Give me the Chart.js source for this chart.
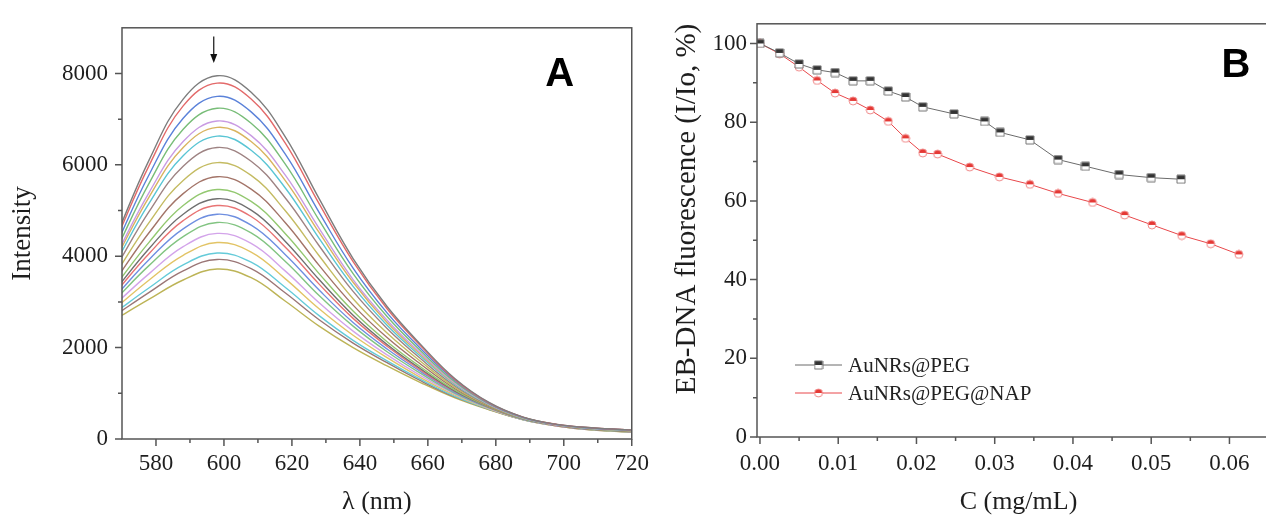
<!DOCTYPE html>
<html lang="en">
<head>
  <meta charset="UTF-8">
  <title>EB-DNA fluorescence</title>
  <script src="https://cdn.jsdelivr.net/npm/chart.js@4"></script>
  <style>
    html, body { margin: 0; padding: 0; background: #fff; overflow: hidden; }
    body { width: 1266px; height: 518px; position: relative; }
    .panel { position: absolute; top: 0; }
    #panelA { left: 0; width: 660px; height: 518px; }
    #panelB { left: 660px; width: 625px; height: 518px; }
  </style>
</head>
<body>
  <div class="panel" id="panelA"><canvas id="chartA" width="660" height="518"></canvas></div>
  <div class="panel" id="panelB"><canvas id="chartB" width="625" height="518"></canvas></div>

  <script>
    // ---- panel A : emission spectra (top curve = first addition, bottom = last) ----
    const wavelength = [568, 578, 588, 598, 608, 618, 628, 638, 648, 658, 668, 678, 688, 698, 708, 718, 728];
    const spec01 = [4390, 6110, 7440, 7950, 7590, 6620, 5260, 3950, 2900, 2060, 1320, 800, 480, 320, 245, 205, 185];
    const spec02 = [4320, 5990, 7290, 7790, 7440, 6480, 5150, 3880, 2850, 2030, 1300, 790, 480, 320, 245, 205, 185];
    const spec03 = [4200, 5790, 7020, 7500, 7160, 6240, 4960, 3740, 2760, 1970, 1280, 780, 475, 315, 240, 200, 180];
    const spec04 = [4090, 5600, 6780, 7240, 6910, 6020, 4790, 3620, 2680, 1920, 1250, 770, 470, 315, 240, 195, 180];
    const spec05 = [3980, 5400, 6510, 6960, 6640, 5780, 4610, 3490, 2600, 1870, 1220, 760, 465, 310, 235, 195, 175];
    const spec06 = [3920, 5300, 6380, 6820, 6510, 5660, 4520, 3430, 2550, 1840, 1210, 760, 465, 310, 235, 190, 170];
    const spec07 = [3840, 5160, 6200, 6630, 6320, 5500, 4390, 3340, 2490, 1800, 1190, 750, 460, 310, 230, 190, 170];
    const spec08 = [3730, 4980, 5970, 6380, 6080, 5280, 4230, 3230, 2420, 1750, 1160, 740, 460, 305, 230, 185, 165];
    const spec09 = [3600, 4740, 5660, 6050, 5770, 5000, 4010, 3070, 2320, 1690, 1130, 730, 455, 305, 225, 185, 165];
    const spec10 = [3470, 4520, 5370, 5740, 5470, 4740, 3800, 2930, 2220, 1630, 1100, 715, 450, 300, 220, 180, 160];
    const spec11 = [3350, 4310, 5110, 5460, 5200, 4500, 3620, 2800, 2130, 1570, 1070, 705, 445, 300, 220, 175, 155];
    const spec12 = [3260, 4170, 4920, 5260, 5010, 4330, 3490, 2710, 2070, 1530, 1050, 700, 440, 300, 215, 175, 155];
    const spec13 = [3200, 4060, 4780, 5110, 4870, 4200, 3390, 2640, 2030, 1500, 1040, 695, 440, 295, 215, 170, 150];
    const spec14 = [3120, 3930, 4600, 4920, 4680, 4040, 3260, 2550, 1970, 1470, 1020, 685, 435, 295, 215, 170, 150];
    const spec15 = [3050, 3800, 4430, 4740, 4510, 3890, 3140, 2470, 1910, 1430, 1000, 680, 435, 295, 210, 165, 145];
    const spec16 = [2950, 3620, 4210, 4500, 4280, 3680, 2980, 2360, 1840, 1380, 980, 670, 430, 290, 210, 165, 145];
    const spec17 = [2860, 3480, 4020, 4300, 4090, 3510, 2850, 2270, 1780, 1340, 960, 660, 430, 290, 205, 160, 140];
    const spec18 = [2770, 3310, 3810, 4070, 3870, 3320, 2700, 2160, 1710, 1300, 935, 655, 425, 290, 205, 160, 140];
    const spec19 = [2710, 3210, 3680, 3930, 3730, 3200, 2610, 2100, 1670, 1270, 920, 650, 425, 285, 200, 160, 135];
    const spec20 = [2620, 3060, 3480, 3720, 3530, 3020, 2470, 2000, 1600, 1230, 900, 640, 420, 285, 200, 155, 135];
    const spectra = [spec01, spec02, spec03, spec04, spec05, spec06, spec07, spec08, spec09, spec10,
                     spec11, spec12, spec13, spec14, spec15, spec16, spec17, spec18, spec19, spec20];
    const specColors = ['#7d7d7d', '#e36a6a', '#5b82d9', '#78bd78', '#c99be3', '#d9b45f', '#5ac5d4', '#9e8383', '#c4bb62', '#a37468',
                        '#93c870', '#707070', '#e87474', '#6f8fe0', '#82c482', '#d3a4ea', '#e2c466', '#65cbd9', '#9b7676', '#bdb457'];
    const aXTicks = [580, 600, 620, 640, 660, 680, 700, 720];
    const aXMinor = [590, 610, 630, 650, 670, 690, 710];
    const aYTicks = [0, 2000, 4000, 6000, 8000];
    const aYMinor = [1000, 3000, 5000, 7000];
    const arrowNm = 597, arrowFrom = 8810, arrowTo = 8230;

    // ---- panel B : quenching vs concentration ----
    const concPeg  = [0, 0.0025, 0.005, 0.0073, 0.0096, 0.0119, 0.0141, 0.0164, 0.0186, 0.0208, 0.0248, 0.0287, 0.0307, 0.0345, 0.0381, 0.0416, 0.0459, 0.05, 0.0538];
    const fluorPeg = [100, 97.6, 94.8, 93.3, 92.6, 90.5, 90.5, 87.9, 86.4, 83.9, 82.1, 80.2, 77.4, 75.5, 70.5, 68.8, 66.7, 65.9, 65.5];
    const concNap  = [0, 0.0025, 0.005, 0.0073, 0.0096, 0.0119, 0.0141, 0.0164, 0.0186, 0.0208, 0.0227, 0.0268, 0.0306, 0.0345, 0.0381, 0.0425, 0.0466, 0.0501, 0.0539, 0.0576, 0.0612];
    const fluorNap = [100, 97.4, 94.0, 90.6, 87.4, 85.4, 83.1, 80.2, 75.9, 72.2, 71.9, 68.6, 66.1, 64.2, 61.9, 59.6, 56.4, 53.9, 51.2, 49.1, 46.4];
    const bXTicks = [0, 0.01, 0.02, 0.03, 0.04, 0.05, 0.06];
    const bXMinor = [0.005, 0.015, 0.025, 0.035, 0.045, 0.055, 0.065];
    const bYTicks = [0, 20, 40, 60, 80, 100];
    const bYMinor = [10, 30, 50, 70, 90];

    const serif = "'Liberation Serif', 'DejaVu Serif', serif";
    const textCol = '#1e1e1e';
    const frameCol = '#555';

    // frame round the plot area plus outward ticks (major + minor)
    function axisFrame(xMajor, xMinor, yMajor, yMinor) {
      return {
        id: 'axisFrame',
        afterDraw(chart) {
          const {ctx, chartArea: a, scales: {x, y}} = chart;
          ctx.save();
          ctx.strokeStyle = frameCol;
          ctx.lineWidth = 1.5;
          ctx.strokeRect(a.left, a.top, a.right - a.left, a.bottom - a.top);
          ctx.beginPath();
          const tx = (list, len) => list.forEach(v => {
            const p = x.getPixelForValue(v);
            ctx.moveTo(p, a.bottom); ctx.lineTo(p, a.bottom + len);
          });
          const ty = (list, len) => list.forEach(v => {
            const p = y.getPixelForValue(v);
            ctx.moveTo(a.left, p); ctx.lineTo(a.left - len, p);
          });
          tx(xMajor, 7); tx(xMinor, 4);
          ty(yMajor, 7); ty(yMinor, 4);
          ctx.stroke();
          ctx.restore();
        }
      };
    }

    function panelLetter(text, dx, dy) {
      return {
        id: 'panelLetter',
        afterDraw(chart) {
          const {ctx, chartArea: a} = chart;
          ctx.save();
          ctx.font = "bold 40px 'Liberation Sans', Arial, sans-serif";
          ctx.fillStyle = '#000';
          ctx.textAlign = 'center';
          ctx.textBaseline = 'middle';
          ctx.fillText(text, a.right - dx, a.top + dy);
          ctx.restore();
        }
      };
    }

    const arrowPlugin = {
      id: 'arrow',
      afterDatasetsDraw(chart) {
        const {ctx, scales: {x, y}} = chart;
        const px = x.getPixelForValue(arrowNm);
        const y1 = y.getPixelForValue(arrowFrom);
        const y2 = y.getPixelForValue(arrowTo);
        ctx.save();
        ctx.strokeStyle = '#111';
        ctx.fillStyle = '#111';
        ctx.lineWidth = 1.2;
        ctx.beginPath();
        ctx.moveTo(px, y1); ctx.lineTo(px, y2 - 6);
        ctx.stroke();
        ctx.beginPath();
        ctx.moveTo(px - 3.5, y2 - 9); ctx.lineTo(px + 3.5, y2 - 9); ctx.lineTo(px, y2);
        ctx.closePath();
        ctx.fill();
        ctx.restore();
      }
    };

    // half-filled marker (top half solid, bottom half open)
    function halfMarker(shape, solid, edge) {
      const size = 8;
      const c = document.createElement('canvas');
      c.width = c.height = size + 2;
      const g = c.getContext('2d');
      const m = (size + 2) / 2, r = size / 2;
      const path = () => {
        g.beginPath();
        if (shape === 'square') g.rect(m - r, m - r, size, size);
        else g.arc(m, m, r, 0, Math.PI * 2);
      };
      path(); g.fillStyle = '#fff'; g.fill();
      g.save();
      g.beginPath(); g.rect(0, 0, c.width, m); g.clip();
      path(); g.fillStyle = solid; g.fill();
      g.restore();
      path(); g.strokeStyle = edge; g.lineWidth = 1; g.stroke();
      return c;
    }

    // ---- chart A ----
    new Chart(document.getElementById('chartA'), {
      type: 'line',
      data: {
        datasets: spectra.map((s, i) => ({
          label: 'spectrum ' + (i + 1),
          data: s.map((v, j) => ({x: wavelength[j], y: v})),
          borderColor: specColors[i],
          borderWidth: 1.4,
          pointRadius: 0,
          fill: false,
          tension: 0.4
        }))
      },
      options: {
        responsive: false,
        animation: false,
        events: [],
        layout: {padding: {top: 17, right: 15, left: 0, bottom: 0}},
        plugins: {legend: {display: false}, tooltip: {enabled: false}},
        scales: {
          x: {
            type: 'linear', min: 570, max: 720,
            grid: {display: false, drawTicks: false},
            border: {display: false},
            afterBuildTicks: s => { s.ticks = aXTicks.map(v => ({value: v})); },
            afterFit: s => { s.height = 79; },
            ticks: {padding: 11, color: textCol, font: {family: serif, size: 23}, callback: v => String(v)},
            title: {display: true, text: 'λ (nm)', color: textCol, padding: {top: 0, bottom: 0},
                    font: {family: serif, size: 26, lineHeight: 1.2}}
          },
          y: {
            type: 'linear', min: 0, max: 9000,
            grid: {display: false, drawTicks: false},
            border: {display: false},
            afterBuildTicks: s => { s.ticks = aYTicks.map(v => ({value: v})); },
            afterFit: s => { s.width = 122; },
            ticks: {padding: 14, color: textCol, font: {family: serif, size: 23}, callback: v => String(v)},
            title: {display: true, text: 'Intensity', color: textCol, padding: {top: 7, bottom: 0},
                    font: {family: serif, size: 27, lineHeight: 1.2}}
          }
        }
      },
      plugins: [axisFrame(aXTicks, aXMinor, aYTicks, aYMinor), arrowPlugin, panelLetter('A', 72, 47)]
    });

    // ---- chart B ----
    const pegMarker = halfMarker('square', '#333', '#777');
    const napMarker = halfMarker('circle', '#e53935', '#f08a8a');

    const legendB = {
      id: 'legendB',
      afterDraw(chart) {
        const {ctx, chartArea: a} = chart;
        const rows = [-72, -44];
        ctx.save();
        ctx.font = "21px " + serif;
        ctx.textBaseline = 'middle';
        ctx.fillStyle = '#222';
        chart.data.datasets.forEach((ds, i) => {
          const x0 = a.left + 38, yy = a.bottom + rows[i];
          ctx.strokeStyle = ds.borderColor;
          ctx.lineWidth = 1;
          ctx.beginPath(); ctx.moveTo(x0, yy); ctx.lineTo(x0 + 47, yy); ctx.stroke();
          const img = ds.pointStyle;
          ctx.drawImage(img, x0 + 23.5 - img.width / 2, yy - img.height / 2);
          ctx.fillText(ds.label, x0 + 53, yy + 1);
        });
        ctx.restore();
      }
    };

    new Chart(document.getElementById('chartB'), {
      type: 'line',
      data: {
        datasets: [
          {
            label: 'AuNRs@PEG',
            data: concPeg.map((c, i) => ({x: c, y: fluorPeg[i]})),
            borderColor: '#6b6b6b', borderWidth: 1,
            pointStyle: pegMarker, pointRadius: 4, tension: 0, fill: false
          },
          {
            label: 'AuNRs@PEG@NAP',
            data: concNap.map((c, i) => ({x: c, y: fluorNap[i]})),
            borderColor: '#e8474a', borderWidth: 1,
            pointStyle: napMarker, pointRadius: 4, tension: 0, fill: false
          }
        ]
      },
      options: {
        responsive: false,
        animation: false,
        events: [],
        layout: {padding: {top: 21, right: 0, left: 0, bottom: 0}},
        plugins: {legend: {display: false}, tooltip: {enabled: false}},
        scales: {
          x: {
            type: 'linear', min: -0.00038, max: 0.06646,
            grid: {display: false, drawTicks: false},
            border: {display: false},
            afterBuildTicks: s => { s.ticks = bXTicks.map(v => ({value: v})); },
            afterFit: s => { s.height = 81; },
            ticks: {padding: 13, color: textCol, font: {family: serif, size: 23}, callback: v => Number(v).toFixed(2)},
            title: {display: true, text: 'C (mg/mL)', color: textCol, padding: {top: 0, bottom: 0},
                    font: {family: serif, size: 26, lineHeight: 1.2}}
          },
          y: {
            type: 'linear', min: 0, max: 105,
            grid: {display: false, drawTicks: false},
            border: {display: false},
            afterBuildTicks: s => { s.ticks = bYTicks.map(v => ({value: v})); },
            afterFit: s => { s.width = 97; },
            ticks: {padding: 10, color: textCol, font: {family: serif, size: 23}, callback: v => String(v)},
            title: {display: true, text: 'EB-DNA fluorescence (I/Io, %)', align: 'end', color: textCol,
                    padding: {top: 10, bottom: 0}, font: {family: serif, size: 29, lineHeight: 1.2}}
          }
        }
      },
      plugins: [axisFrame(bXTicks, bXMinor, bYTicks, bYMinor), legendB, panelLetter('B', 44, 42)]
    });
  </script>
</body>
</html>
